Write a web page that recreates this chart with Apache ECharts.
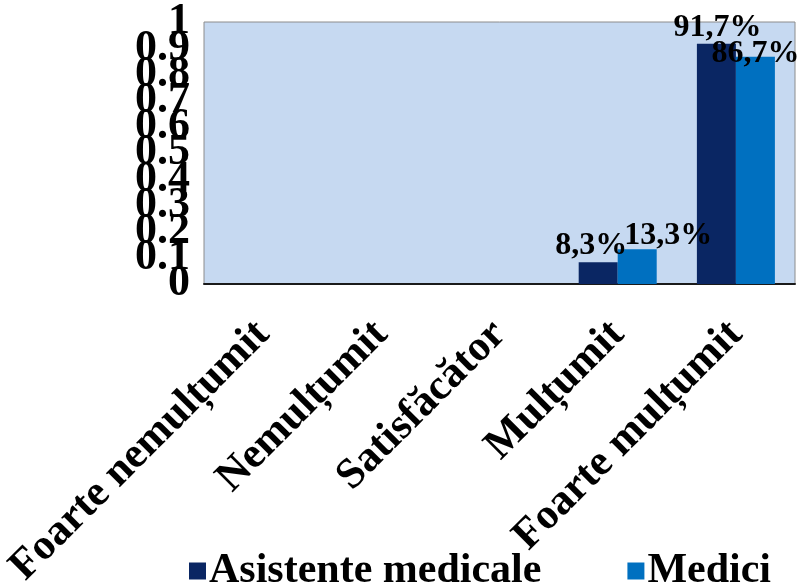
<!DOCTYPE html>
<html>
<head>
<meta charset="utf-8">
<script src="https://cdn.jsdelivr.net/npm/echarts@6/dist/echarts.min.js"></script>
<style>
  html, body { margin: 0; padding: 0; background: #fff; }
  #chart { width: 801px; height: 586px; }
</style>
</head>
<body>
<div id="chart"></div>
<script>
const categories = ['Foarte nemulțumit', 'Nemulțumit', 'Satisfăcător', 'Mulțumit', 'Foarte mulțumit'];
const seriesNames = ['Asistente medicale', 'Medici'];
const asistente = [0, 0, 0, 0.083, 0.917];
const medici = [0, 0, 0, 0.133, 0.867];
const yTicks = [0, 0.1, 0.2, 0.3, 0.4, 0.5, 0.6, 0.7, 0.8, 0.9, 1];

// label nudges, like the hand-placed labels in the original
const labelShift = {
    0: { 3: [-7, 4], 4: [1, 5] },
    1: { 3: [31, 8], 4: [0, 18] }
};

const font = 'Liberation Serif, Times New Roman, serif';
const colors = ['#0A2663', '#0070C0'];

function fmt(v) {
    return (v * 100).toFixed(1).replace('.', ',') + '%';
}

function buildData(values, s) {
    return values.map(function (v, i) {
        const item = { value: v };
        if (v > 0) {
            item.label = { show: true, offset: (labelShift[s] && labelShift[s][i]) || [0, 0] };
        }
        return item;
    });
}

const yMin = yTicks[0];
const yMax = yTicks[yTicks.length - 1];

// the labels overlap on purpose (as in the original), so the ends and the
// middle ticks go on two stacked axes to stop echarts from dropping any
function yAxisFor(ends) {
    return {
        type: 'value',
        position: 'left',
        min: yMin,
        max: yMax,
        interval: 0.1,
        axisLine: { show: false },
        axisTick: { show: false },
        splitLine: { show: false },
        axisLabel: {
            margin: 14,
            showMinLabel: ends,
            showMaxLabel: ends,
            fontFamily: font,
            fontSize: 44,
            fontWeight: 'bold',
            color: '#000',
            formatter: function (v) {
                const isEnd = v === yMin || v === yMax;
                if (ends && !isEnd) return '';
                return String(Math.round(v * 10) / 10);
            }
        }
    };
}

var myChart = echarts.init(document.getElementById('chart'));

const option = {
    backgroundColor: '#fff',
    animation: false,
    textStyle: { fontFamily: font },
    grid: {
        left: 204,
        right: 6,
        top: 22,
        bottom: 302,
        outerBoundsMode: 'none',
        containLabel: false,
        show: true,
        backgroundColor: '#C6D9F1',
        borderColor: '#8C8C8C',
        borderWidth: 1
    },
    legend: {
        left: 184,
        top: 545,
        itemWidth: 17,
        itemHeight: 17,
        itemGap: 86,
        icon: 'rect',
        textStyle: {
            fontFamily: font,
            fontSize: 42,
            fontWeight: 'bold',
            color: '#000',
            padding: [0, 0, 0, -2]
        },
        data: seriesNames
    },
    xAxis: {
        type: 'category',
        data: categories,
        axisLine: { show: true, lineStyle: { color: '#1a1a1a', width: 2 } },
        axisTick: { show: false },
        axisLabel: {
            interval: 0,
            rotate: 45,
            margin: 44,
            fontFamily: font,
            fontSize: 43,
            fontWeight: 'bold',
            color: '#000'
        }
    },
    yAxis: [yAxisFor(false), yAxisFor(true)],
    series: [asistente, medici].map(function (vals, s) {
        return {
            name: seriesNames[s],
            type: 'bar',
            yAxisIndex: 0,
            barGap: '0%',
            barCategoryGap: '34%',
            itemStyle: { color: colors[s] },
            label: {
                show: false,
                position: 'top',
                fontFamily: font,
                fontSize: 32,
                fontWeight: 'bold',
                color: '#000',
                formatter: function (p) { return fmt(p.value); }
            },
            data: buildData(vals, s)
        };
    })
};

option && myChart.setOption(option);
</script>
</body>
</html>
